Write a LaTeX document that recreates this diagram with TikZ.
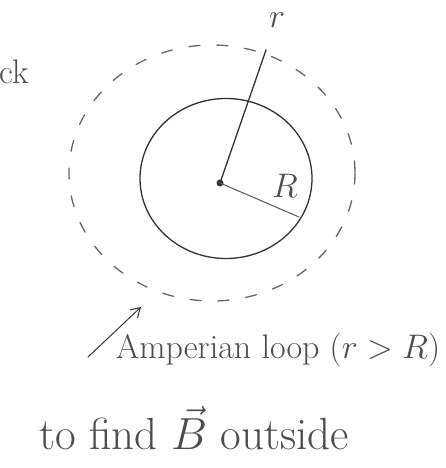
\RequirePackage{fix-cm}
\documentclass[tikz,border=0pt]{standalone}
\usetikzlibrary{arrows.meta}
\begin{document}
\begin{tikzpicture}[x=1pt, y=-1pt,
    ink/.style={draw=black!80, line width=1.3pt, line cap=round},
    loopline/.style={draw=black!60, line width=1.3pt, line cap=round, dash pattern=on 11pt off 17pt},
    scribble/.style={text=black!70, font=\fontsize{34}{40}\selectfont}]
\useasboundingbox (0,0) rectangle (445,468);

% wire cross section and the loop round it
\coordinate (centre) at (220,183);
\draw[ink] (226,178.5) ellipse (86 and 80);
\draw[loopline] (212,173) ellipse (143 and 128);
\fill[black!80] (centre) circle (3.5);

% radii
\coordinate (rtip) at (266,50);
\coordinate (Rtip) at (299,217);
\draw[ink] (centre) -- (rtip);
\draw[ink, line width=1pt, draw=black!65] (centre) -- (Rtip);
\node[scribble] (rlabel) at (277,20) {$r$};
\node[scribble] (Rlabel) at (285,186) {$R$};

% leftover word at the edge
\node[scribble, anchor=east] (cutword) at (32,72) {ck};

% labels
\node[scribble] (looplabel) at (278,350) {Amperian loop ($r>R$)};
\node[scribble, font=\fontsize{45}{50}\selectfont] (findlabel) at (194,428) {to find $\vec{B}$ outside};
\coordinate (arrowfoot) at (88,357);
\coordinate (arrowtip) at (141,307);
\draw[ink, line width=1pt, -{Straight Barb[length=9pt,width=11pt]}] (arrowfoot) -- (arrowtip);
\end{tikzpicture}
\end{document}
